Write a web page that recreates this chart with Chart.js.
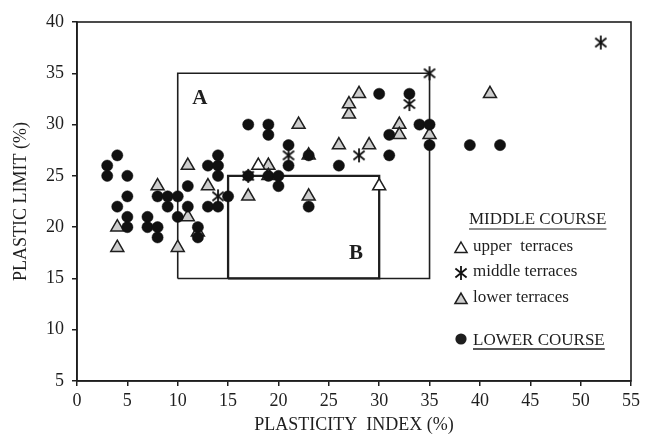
<!DOCTYPE html>
<html>
<head>
<meta charset="utf-8">
<script src="https://cdn.jsdelivr.net/npm/chart.js@4.4.1/dist/chart.umd.min.js"></script>
<style>
html, body { margin: 0; padding: 0; background: #fff; }
</style>
</head>
<body>
<canvas id="graphique" width="653" height="440"></canvas>
<script>
// axes
var xMin = 0, xMax = 55, xStep = 5;
var yMin = 5, yMax = 40, yStep = 5;
var xTitle = 'PLASTICITY  INDEX (%)';
var yTitle = 'PLASTIC LIMIT (%)';

// middle course - upper terraces (open triangles)
var upperTerraces = [[18, 26], [30, 24]];

// middle course - middle terraces (asterisks)
var middleTerraces = [[14, 23], [17, 25], [21, 27], [28, 27], [33, 32], [35, 35], [52, 38]];

// middle course - lower terraces (grey triangles)
var lowerTerraces = [
    [4, 20], [4, 18], [8, 24], [10, 18], [11, 26], [11, 21], [12, 19.5], [13, 24],
    [17, 23], [19, 26], [19, 25], [22, 30], [23, 27], [23, 23], [26, 28], [27, 31],
    [27, 32], [28, 33], [29, 28], [32, 30], [32, 29], [35, 29], [41, 33]
];

// lower course (black dots)
var lowerCourse = [
    [3, 26], [3, 25], [4, 27], [4, 22], [5, 25], [5, 23], [5, 21], [5, 20],
    [7, 21], [7, 20], [8, 20], [8, 19], [8, 23], [9, 23], [10, 23], [9, 22], [10, 21],
    [11, 24], [11, 22], [12, 20], [12, 19],
    [13, 26], [14, 27], [14, 26], [14, 25], [13, 22], [14, 22], [15, 23],
    [17, 30], [19, 30], [19, 29], [17, 25], [19, 25], [20, 25], [20, 24],
    [21, 28], [21, 26], [23, 27], [23, 22], [26, 26],
    [30, 33], [33, 33], [31, 29], [31, 27], [34, 30], [35, 30], [35, 28],
    [39, 28], [42, 28]
];

// zones A and B (corners, closed)
var zoneA = [[10, 15], [10, 35], [35, 35], [35, 15], [10, 15]];
var zoneB = [[15, 15], [15, 25], [30, 25], [30, 15], [15, 15]];
var zoneLabels = [['A', 12.2, 32.5], ['B', 27.7, 17.4]];

var ink = '#1e1e1e';
var greyFill = '#cdcdcd';
var serif = '"Liberation Serif", "Times New Roman", serif';

function toPoints(arr) {
    return arr.map(function (p) { return { x: p[0], y: p[1] }; });
}

// asterisk drawn on a small canvas, used as point style
function asterisk(size) {
    var c = document.createElement('canvas');
    c.width = size; c.height = size;
    var g = c.getContext('2d');
    g.strokeStyle = '#111';
    g.lineWidth = 1.8;
    var m = size / 2, r = size / 2 - 1;
    g.beginPath();
    g.moveTo(m, m - r); g.lineTo(m, m + r);
    g.moveTo(m - r * 0.8, m - r * 0.65); g.lineTo(m + r * 0.8, m + r * 0.65);
    g.moveTo(m + r * 0.8, m - r * 0.65); g.lineTo(m - r * 0.8, m + r * 0.65);
    g.stroke();
    return c;
}
var starImg = asterisk(16);

function triangle(ctx, x, y, r, fill) {
    ctx.beginPath();
    ctx.moveTo(x, y - r);
    ctx.lineTo(x + r * 0.866, y + r * 0.5);
    ctx.lineTo(x - r * 0.866, y + r * 0.5);
    ctx.closePath();
    ctx.fillStyle = fill;
    ctx.fill();
    ctx.strokeStyle = ink;
    ctx.lineWidth = 1.5;
    ctx.stroke();
}

// frame, letters A / B and the hand-made legend
var decorations = {
    id: 'decorations',
    beforeDatasetsDraw: function (chart) {
        var ctx = chart.ctx, a = chart.chartArea;
        ctx.save();
        ctx.strokeStyle = ink;
        ctx.lineWidth = 1.6;
        ctx.strokeRect(a.left, a.top, a.right - a.left, a.bottom - a.top);
        ctx.restore();
    },
    afterDraw: function (chart) {
        var ctx = chart.ctx, a = chart.chartArea;
        var sx = chart.scales.x, sy = chart.scales.y;
        ctx.save();
        ctx.fillStyle = ink;
        ctx.font = 'bold 21px ' + serif;
        ctx.textAlign = 'center';
        ctx.textBaseline = 'middle';
        zoneLabels.forEach(function (l) {
            ctx.fillText(l[0], sx.getPixelForValue(l[1]), sy.getPixelForValue(l[2]));
        });

        // legend
        var mx = a.right - 170, tx = a.right - 158;
        ctx.font = '17px ' + serif;
        ctx.textAlign = 'left';
        ctx.textBaseline = 'middle';
        ctx.lineWidth = 1.2;
        ctx.strokeStyle = ink;

        var w = ctx.measureText('MIDDLE COURSE').width;
        ctx.fillText('MIDDLE COURSE', a.right - 162, 220);
        ctx.beginPath(); ctx.moveTo(a.right - 162, 229); ctx.lineTo(a.right - 162 + w, 229); ctx.stroke();

        triangle(ctx, mx, 249, 7, '#fff');
        ctx.fillStyle = ink;
        ctx.fillText('upper  terraces', tx, 247);

        ctx.drawImage(starImg, mx - 8, 273 - 8);
        ctx.fillText('middle terraces', tx, 272);

        triangle(ctx, mx, 300, 7, greyFill);
        ctx.fillStyle = ink;
        ctx.fillText('lower terraces', tx, 298);

        ctx.beginPath(); ctx.arc(mx, 339, 5.6, 0, Math.PI * 2); ctx.fill();
        var w2 = ctx.measureText('LOWER COURSE').width;
        ctx.fillText('LOWER COURSE', tx, 341);
        ctx.beginPath(); ctx.moveTo(tx, 349); ctx.lineTo(tx + w2, 349); ctx.stroke();
        ctx.restore();
    }
};

var ctx = document.getElementById('graphique').getContext('2d');
var chart = new Chart(ctx, {
    type: 'scatter',
    data: {
        datasets: [
            {
                label: 'middle terraces',
                data: toPoints(middleTerraces),
                pointStyle: starImg,
                pointRadius: 8
            },
            {
                label: 'LOWER COURSE',
                data: toPoints(lowerCourse),
                pointStyle: 'circle',
                pointRadius: 5.6,
                backgroundColor: '#111',
                borderColor: '#111',
                borderWidth: 0.5
            },
            {
                label: 'upper terraces',
                data: toPoints(upperTerraces),
                pointStyle: 'triangle',
                pointRadius: 7.5,
                backgroundColor: '#fff',
                borderColor: ink,
                borderWidth: 1.5
            },
            {
                label: 'lower terraces',
                data: toPoints(lowerTerraces),
                pointStyle: 'triangle',
                pointRadius: 7.5,
                backgroundColor: greyFill,
                borderColor: ink,
                borderWidth: 1.5
            },
            {
                label: 'A',
                data: toPoints(zoneA),
                showLine: true,
                pointRadius: 0,
                borderColor: ink,
                borderWidth: 1.6,
                fill: false,
                order: 5
            },
            {
                label: 'B',
                data: toPoints(zoneB),
                showLine: true,
                pointRadius: 0,
                borderColor: ink,
                borderWidth: 2.3,
                fill: false,
                order: 5
            }
        ]
    },
    options: {
        responsive: false,
        devicePixelRatio: 1,
        animation: false,
        clip: false,
        layout: { padding: { left: 0, right: 22, top: 22, bottom: 0 } },
        plugins: {
            legend: { display: false },
            tooltip: { enabled: false }
        },
        scales: {
            x: {
                type: 'linear',
                min: xMin, max: xMax,
                afterFit: function (s) { s.height = 59; },
                ticks: { stepSize: xStep, color: ink, padding: 4, font: { family: serif, size: 18 } },
                grid: { drawOnChartArea: false, drawTicks: true, tickLength: 5, color: ink, lineWidth: 1.5 },
                border: { display: true, color: ink, width: 1.6 },
                title: { display: true, text: xTitle, color: ink, font: { family: serif, size: 18 }, padding: { top: 4, bottom: 4 } }
            },
            y: {
                type: 'linear',
                min: yMin, max: yMax,
                afterFit: function (s) { s.width = 77; },
                ticks: { stepSize: yStep, color: ink, padding: 8, font: { family: serif, size: 18 } },
                grid: { drawOnChartArea: false, drawTicks: true, tickLength: 5, color: ink, lineWidth: 1.5 },
                border: { display: true, color: ink, width: 1.6 },
                title: { display: true, text: yTitle, color: ink, font: { family: serif, size: 18 }, padding: { top: 10, bottom: 4 } }
            }
        }
    },
    plugins: [decorations]
});
</script>
</body>
</html>
